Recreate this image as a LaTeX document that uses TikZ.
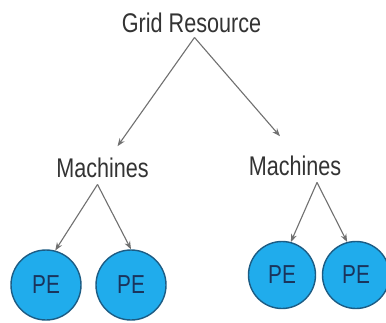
\documentclass[tikz,border=0pt]{standalone}
\usepackage{fontspec}
\usepackage{xcolor}
\usetikzlibrary{arrows, arrows.meta, positioning, calc}
\newfontfamily\diagfont[FakeStretch=0.8]{Liberation Sans}
\definecolor{pefill}{RGB}{32,172,236}
\definecolor{peborder}{RGB}{28,92,132}
\definecolor{petext}{RGB}{26,52,92}
\definecolor{linecolor}{RGB}{112,112,112}

\begin{document}
\begin{tikzpicture}[x=1pt, y=-1pt,
    label/.style={font=\diagfont\fontsize{27}{30}\selectfont, text=black!80, inner xsep=0pt, inner ysep=5pt, anchor=base},
    pe/.style={circle, draw=peborder, line width=1.4pt, fill=pefill, minimum size=70pt, inner sep=0pt, text=petext, font=\diagfont\fontsize{26}{28}\selectfont},
    arrow/.style={-{Stealth[length=8pt, width=6pt]}, linecolor, line width=1.1pt}]

    \useasboundingbox[fill=white] (0,0) rectangle (386,322);

    % Nodes
    \node [label] (grid) at (191.5,32) {Grid Resource};
    \node [label] (mleft) at (102.5,177) {Machines};
    \node [label] (mright) at (295,175) {Machines};
    \node [pe] (pe1) at (46,285) {PE};
    \node [pe] (pe2) at (131,285) {PE};
    \node [pe, minimum size=67pt] (pe3) at (282,275) {PE};
    \node [pe, minimum size=67pt] (pe4) at (356,275) {PE};

    % Arrows
    \draw [arrow] ([xshift=3pt]grid.south) -- ([xshift=15pt,yshift=6pt]mleft.north);
    \draw [arrow] ([xshift=3pt]grid.south) -- ([xshift=-15pt,yshift=14pt]mright.north);
    \draw [arrow] ([xshift=-5pt,yshift=-2pt]mleft.south) -- (pe1.75);
    \draw [arrow] ([xshift=-5pt,yshift=-2pt]mleft.south) -- (pe2.north);
    \draw [arrow] ([xshift=22pt,yshift=-2pt]mright.south) -- (pe3.75);
    \draw [arrow] ([xshift=22pt,yshift=-2pt]mright.south) -- (pe4.105);

\end{tikzpicture}
\end{document}
